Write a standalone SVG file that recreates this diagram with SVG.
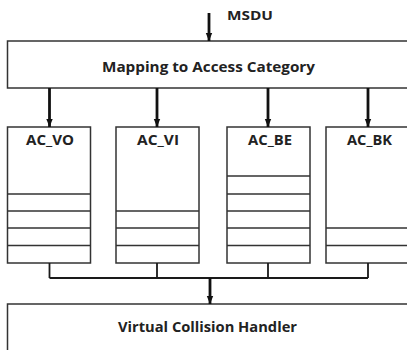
<svg xmlns="http://www.w3.org/2000/svg" width="407" height="350" viewBox="0 0 407 350">
  <style>
    .box { fill: #ffffff; stroke: #333333; stroke-width: 1.5; }
    .slot { stroke: #333333; stroke-width: 1.5; fill: none; }
    .wire { stroke: #1a1a1a; stroke-width: 1.8; fill: none; }
    .arrow { stroke: #111111; stroke-width: 2.8; fill: none; marker-end: url(#head); }
    .lbl { font-family: "Open Sans", "Noto Sans", "Liberation Sans", sans-serif; font-weight: bold; fill: #222222; }
    .big { font-size: 14.5px; text-anchor: middle; }
    .ac { font-size: 13.5px; text-anchor: middle; }
  </style>
  <defs>
    <marker id="head" viewBox="0 0 10 8" refX="10" refY="4" markerUnits="userSpaceOnUse" markerWidth="8" markerHeight="10" orient="auto">
      <path d="M0,0 L10,4 L0,8 Z" fill="#111111"/>
    </marker>
  </defs>

  <!-- input label -->
  <text class="lbl" x="227" y="20" font-size="12.5" textLength="46" lengthAdjust="spacingAndGlyphs">MSDU</text>

  <g id="mapping">
    <rect class="box" x="7.5" y="41" width="410" height="47"/>
    <text class="lbl big" x="208.5" y="72" textLength="213" lengthAdjust="spacingAndGlyphs">Mapping to Access Category</text>
  </g>

  <g id="ac_vo">
    <rect class="box" x="7.5" y="127" width="83" height="136"/>
    <path class="slot" d="M7.5,194H90.5M7.5,211H90.5M7.5,228H90.5M7.5,245.5H90.5"/>
    <text class="lbl ac" x="50" y="145" textLength="48" lengthAdjust="spacingAndGlyphs">AC_VO</text>
  </g>

  <g id="ac_vi">
    <rect class="box" x="116" y="127" width="83" height="136"/>
    <path class="slot" d="M116,211H199M116,228H199M116,245.5H199"/>
    <text class="lbl ac" x="158" y="145" textLength="42" lengthAdjust="spacingAndGlyphs">AC_VI</text>
  </g>

  <g id="ac_be">
    <rect class="box" x="227" y="127" width="83" height="136"/>
    <path class="slot" d="M227,176H310M227,194H310M227,211H310M227,228H310M227,245.5H310"/>
    <text class="lbl ac" x="270" y="145" textLength="44" lengthAdjust="spacingAndGlyphs">AC_BE</text>
  </g>

  <g id="ac_bk">
    <rect class="box" x="326" y="127" width="90" height="136"/>
    <path class="slot" d="M326,228H416M326,245.5H416"/>
    <text class="lbl ac" x="369.5" y="145" textLength="45" lengthAdjust="spacingAndGlyphs">AC_BK</text>
  </g>

  <g id="handler">
    <rect class="box" x="7.5" y="304" width="410" height="60"/>
    <text class="lbl big" x="207.5" y="332" textLength="179" lengthAdjust="spacingAndGlyphs">Virtual Collision Handler</text>
  </g>

  <g id="connectors">
    <line class="arrow" x1="209" y1="13" x2="209" y2="41"/>
    <line class="arrow" x1="49.5" y1="88" x2="49.5" y2="127"/>
    <line class="arrow" x1="157" y1="88" x2="157" y2="127"/>
    <line class="arrow" x1="268" y1="88" x2="268" y2="127"/>
    <line class="arrow" x1="368" y1="88" x2="368" y2="127"/>
    <path class="wire" d="M49.5,263V278M157,263V278M268,263V278M368,263V278M49.5,278H368"/>
    <line class="arrow" x1="210" y1="278" x2="210" y2="304"/>
  </g>
</svg>
